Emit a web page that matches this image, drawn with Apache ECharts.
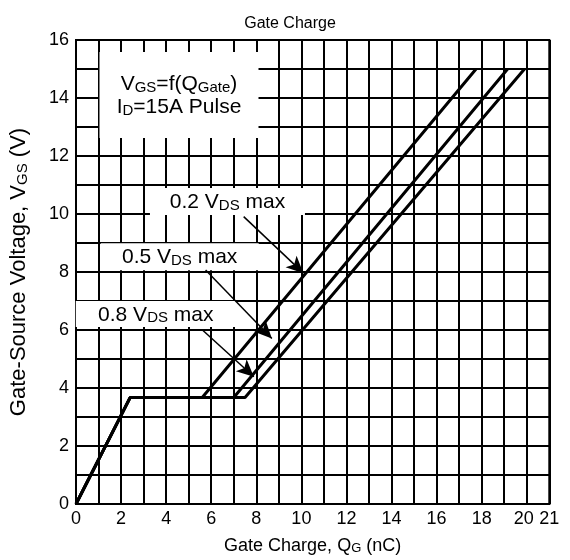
<!DOCTYPE html>
<html>
<head>
<meta charset="utf-8">
<script src="https://cdn.jsdelivr.net/npm/echarts@6/dist/echarts.min.js"></script>
<style>html,body{margin:0;padding:0;background:#fff}#c{width:570px;height:560px}</style>
</head>
<body>
<div id="c"></div>
<script>
// ---- data ----
const seriesNames = ['0.2 VDS max', '0.5 VDS max', '0.8 VDS max'];
const qg02 = [0, 2.4, 5.6, 17.75];
const vgs02 = [0, 3.67, 3.67, 15];
const qg05 = [0, 2.4, 7.0, 19.15];
const vgs05 = [0, 3.67, 3.67, 15];
const qg08 = [0, 2.4, 7.5, 19.9];
const vgs08 = [0, 3.67, 3.67, 15];
const xTicks = [0, 2, 4, 6, 8, 10, 12, 14, 16, 18, 20, 21];
const yTicks = [0, 2, 4, 6, 8, 10, 12, 14, 16];

function pairs(xs, ys) { return xs.map((x, i) => [x, ys[i]]); }

// annotation arrows (data coordinates: label side -> curve)
const arrows = [
  [[7.44, 9.91], [10.09, 7.96]],
  [[5.75, 8.07], [8.69, 5.71]],
  [[5.61, 6.0], [7.89, 4.39]]
];

const FONT = '"Liberation Sans", Arial, sans-serif';
const chart = echarts.init(document.getElementById('c'), null, {renderer: 'canvas'});

function richSet(n, s, lh) {
  return {
    n: {fontSize: n, lineHeight: lh, verticalAlign: 'bottom', color: '#000', fontFamily: FONT},
    s: {fontSize: s, lineHeight: Math.round(s * 1.25), verticalAlign: 'bottom', color: '#000', fontFamily: FONT}
  };
}

const lineStyle = {color: '#000', width: 3};
const seriesData = [pairs(qg02, vgs02), pairs(qg05, vgs05), pairs(qg08, vgs08)];

const option = {
  animation: false,
  backgroundColor: '#fff',
  title: {
    text: 'Gate Charge', left: 285, top: 11, textAlign: 'center',
    textStyle: {fontSize: 16, fontWeight: 'normal', color: '#000', fontFamily: FONT}
  },
  grid: {left: 72.7, right: 20.7, top: 40, bottom: 56, show: true, borderColor: '#000', borderWidth: 2, backgroundColor: 'transparent'},
  xAxis: {
    type: 'value', min: 0, max: 21, interval: 1,
    name: '{n|Gate Charge, Q}{s|G}{n| (nC)}', nameLocation: 'middle', nameGap: 30,
    nameTextStyle: {rich: richSet(18, 13, 21)},
    axisLine: {lineStyle: {color: '#000', width: 2}},
    axisTick: {show: false},
    axisLabel: {color: '#000', fontSize: 18, fontFamily: FONT, margin: 6,
      rich: {l: {fontSize: 18, fontFamily: FONT, color: '#000', padding: [0, 6, 0, 0]}},
      formatter: v => xTicks.indexOf(v) < 0 ? '' : (v === 20 ? '{l|20}' : String(v))},
    splitLine: {show: true, lineStyle: {color: '#000', width: 2}}
  },
  yAxis: {
    type: 'value', min: 0, max: 16, interval: 1,
    name: '{n|Gate-Source Voltage, V}{s|GS}{n| (V)}', nameLocation: 'middle', nameGap: 46, nameRotate: 90,
    nameTextStyle: {rich: richSet(22, 15, 24)},
    axisLine: {lineStyle: {color: '#000', width: 2}},
    axisTick: {show: false},
    axisLabel: {color: '#000', fontSize: 18, fontFamily: FONT, margin: 7,
      formatter: v => yTicks.indexOf(v) >= 0 ? String(v) : ''},
    splitLine: {show: true, lineStyle: {color: '#000', width: 2}}
  },
  series: seriesData.map((d, i) => ({
    name: seriesNames[i], type: 'line', data: d, showSymbol: false, symbol: 'none',
    lineStyle: lineStyle, z: 5, silent: true
  })).concat([{
    type: 'line', data: [], silent: true,
    markLine: {
      silent: true, symbol: ['none', 'arrow'], symbolSize: [12, 17], animation: false, z: 20,
      lineStyle: {color: '#000', width: 1.5, type: 'solid'},
      label: {show: false},
      data: arrows.map(a => [{coord: a[0]}, {coord: a[1]}])
    }
  }])
};
chart.setOption(option);

// text boxes: anchored at data coordinates (centre), with box size in px
const boxes = [
  {at: [4.57, 14.1], w: 159, h: 86, lines: ['{n|V}{s|GS}{n|=f(Q}{s|Gate}{n|)}', '{n|I}{s|D}{n|=15A Pulse}']},
  {at: [6.72, 10.43], w: 155, h: 27, lines: ['{n|0.2 V}{s|DS}{n| max}']},
  {at: [4.6, 8.53], w: 158, h: 27, lines: ['{n|0.5 V}{s|DS}{n| max}']},
  {at: [3.54, 6.55], w: 160, h: 26, lines: ['{n|0.8 V}{s|DS}{n| max}']}
];
const rich = richSet(21, 15, 23);
const gfx = [];
boxes.forEach(b => {
  const p = chart.convertToPixel({gridIndex: 0}, b.at);
  gfx.push({type: 'rect', shape: {x: p[0] - b.w / 2, y: p[1] - b.h / 2, width: b.w, height: b.h},
    style: {fill: '#fff'}, z: 10, silent: true});
  gfx.push({type: 'text', x: p[0], y: p[1], z: 11, silent: true,
    style: {text: b.lines.join('\n'), rich: rich, align: 'center', verticalAlign: 'middle', fill: '#000', font: '21px ' + FONT}});
});
chart.setOption({graphic: gfx});
</script>
</body>
</html>
